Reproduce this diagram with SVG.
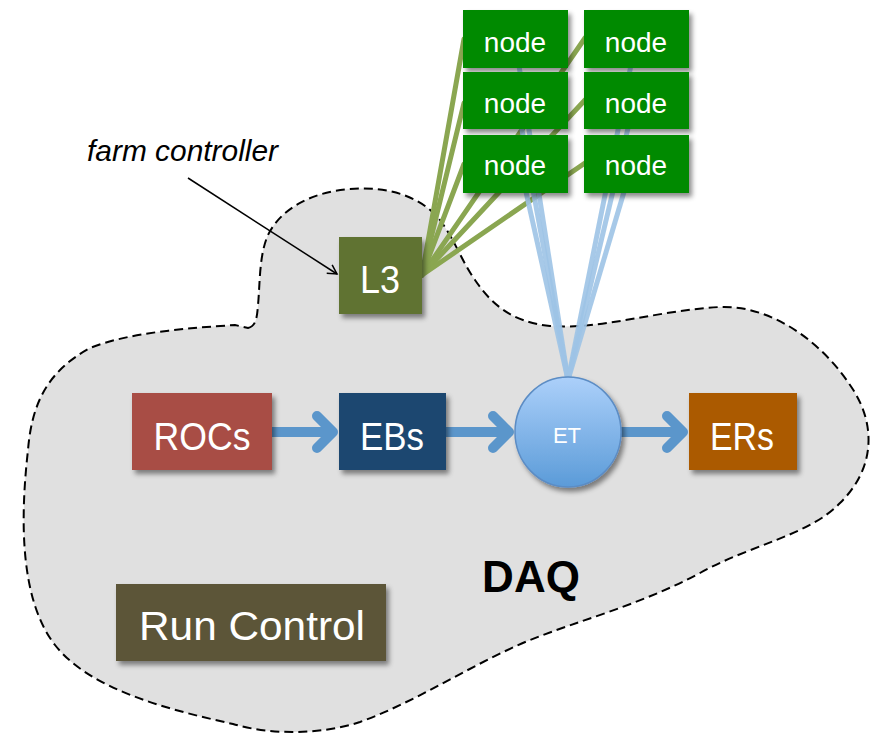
<svg xmlns="http://www.w3.org/2000/svg" width="879" height="739" viewBox="0 0 879 739">
<defs>
<filter id="sh" x="-20%" y="-20%" width="150%" height="150%">
<feDropShadow dx="3" dy="4" stdDeviation="2.5" flood-color="#000" flood-opacity="0.45"/>
</filter>
<linearGradient id="etg" x1="0" y1="0" x2="0" y2="1">
<stop offset="0" stop-color="#acd0fa"/>
<stop offset="1" stop-color="#5b9bd8"/>
</linearGradient>
<marker id="open" markerWidth="12" markerHeight="12" refX="10" refY="6" orient="auto" markerUnits="userSpaceOnUse">
<path d="M1,1 L10,6 L1,11" fill="none" stroke="#000" stroke-width="1.5"/>
</marker>
<style>
.box{filter:url(#sh)}
.lbl{font-family:"Liberation Sans",Arial,sans-serif;fill:#fff;text-anchor:middle}
.node rect{fill:#008a00}
.node text{font-size:28px}
.big{font-size:38px}
.gl{stroke:#8aa651;stroke-width:5;fill:none;stroke-linecap:round}
.bl{stroke:#9dc3e6;stroke-width:5;fill:none;opacity:0.9}
.flow{stroke:#5b96cb;stroke-width:10;fill:none;stroke-linecap:round;stroke-linejoin:round}
</style>
</defs>
<path id="daq-area" d="M248,328 C256,326 257,318 258,305 C260,285 259,255 268,235 C280,210 310,192 350,189 C385,186 420,195 440,220 C455,240 462,262 475,280 C490,302 510,322 550,326 C600,330 660,310 720,307 C770,305 820,340 850,385 C878,425 874,470 840,503 C810,535 750,545 700,573 C640,605 580,620 530,640 C470,665 420,700 360,722 C320,735 270,735 233,724 C170,710 90,690 55,645 C20,600 20,520 28,450 C32,400 50,370 90,348 C130,332 190,328 235,325 Z" fill="#e0e0e0" stroke="#000" stroke-width="2" stroke-dasharray="9 5"/>
<text x="531" y="592" font-family="'Liberation Sans',Arial,sans-serif" font-size="44" font-weight="bold" text-anchor="middle" fill="#000">DAQ</text>
<text x="87" y="161" font-family="'Liberation Sans',Arial,sans-serif" font-size="29" font-style="italic" fill="#000" textLength="191" lengthAdjust="spacingAndGlyphs">farm controller</text>
<g id="connectors">
<g id="farm-links">
<line class="gl" x1="422" y1="275" x2="464" y2="39"/>
<line class="gl" x1="422" y1="275" x2="464" y2="103"/>
<line class="gl" x1="422" y1="275" x2="464" y2="164"/>
<line class="gl" x1="422" y1="275" x2="585" y2="38"/>
<line class="gl" x1="422" y1="275" x2="585" y2="100"/>
<line class="gl" x1="422" y1="275" x2="585" y2="163"/>
</g>
<g id="et-links">
<line class="bl" x1="568" y1="380" x2="515" y2="40"/>
<line class="bl" x1="568" y1="380" x2="517" y2="103"/>
<line class="bl" x1="568" y1="380" x2="520" y2="165"/>
<line class="bl" x1="568" y1="380" x2="636" y2="40"/>
<line class="bl" x1="568" y1="380" x2="634" y2="103"/>
<line class="bl" x1="568" y1="380" x2="632" y2="165"/>
</g>
<g id="flow">
<path class="flow" d="M272,432 H333 M317,416 L333,432 L317,448"/>
<path class="flow" d="M446,432 H509 M493,416 L509,432 L493,448"/>
<path class="flow" d="M621,432 H683 M667,416 L683,432 L667,448"/>
</g>
<line x1="188" y1="178" x2="337" y2="274" stroke="#000" stroke-width="1.5" marker-end="url(#open)"/>
</g>
<g id="node-l3"><rect class="box" x="339" y="237" width="83" height="77" fill="#617333"/><text class="lbl" x="380" y="293" font-size="39" textLength="40" lengthAdjust="spacingAndGlyphs">L3</text></g>
<g id="node-rocs"><rect class="box" x="132" y="393" width="140" height="77" fill="#a84d45"/><text class="lbl big" x="202" y="450" textLength="97" lengthAdjust="spacingAndGlyphs">ROCs</text></g>
<g id="node-ebs"><rect class="box" x="339" y="393" width="107" height="77" fill="#1f4670"/><text class="lbl big" x="392" y="450" textLength="64" lengthAdjust="spacingAndGlyphs">EBs</text></g>
<g id="node-et"><ellipse class="box" cx="568" cy="432" rx="53" ry="55" fill="url(#etg)" stroke="#5b8cc4" stroke-width="1.5"/><text class="lbl" x="567" y="443" font-size="22">ET</text></g>
<g id="node-ers"><rect class="box" x="689" y="393" width="108" height="77" fill="#ab5a00"/><text class="lbl big" x="742" y="450" textLength="64" lengthAdjust="spacingAndGlyphs">ERs</text></g>
<g id="node-runcontrol"><rect class="box" x="116" y="584" width="270" height="77" fill="#5c5538"/><text class="lbl" x="252" y="640" font-size="41" textLength="226" lengthAdjust="spacingAndGlyphs">Run Control</text></g>
<g id="node-1" class="node"><rect class="box" x="463" y="10" width="105" height="58"/><text class="lbl" x="515" y="52">node</text></g>
<g id="node-2" class="node"><rect class="box" x="584" y="10" width="105" height="58"/><text class="lbl" x="636" y="52">node</text></g>
<g id="node-3" class="node"><rect class="box" x="463" y="72" width="105" height="57"/><text class="lbl" x="515" y="113">node</text></g>
<g id="node-4" class="node"><rect class="box" x="584" y="72" width="105" height="57"/><text class="lbl" x="636" y="113">node</text></g>
<g id="node-5" class="node"><rect class="box" x="463" y="135" width="105" height="58"/><text class="lbl" x="515" y="175">node</text></g>
<g id="node-6" class="node"><rect class="box" x="584" y="135" width="105" height="58"/><text class="lbl" x="636" y="175">node</text></g>
</svg>
